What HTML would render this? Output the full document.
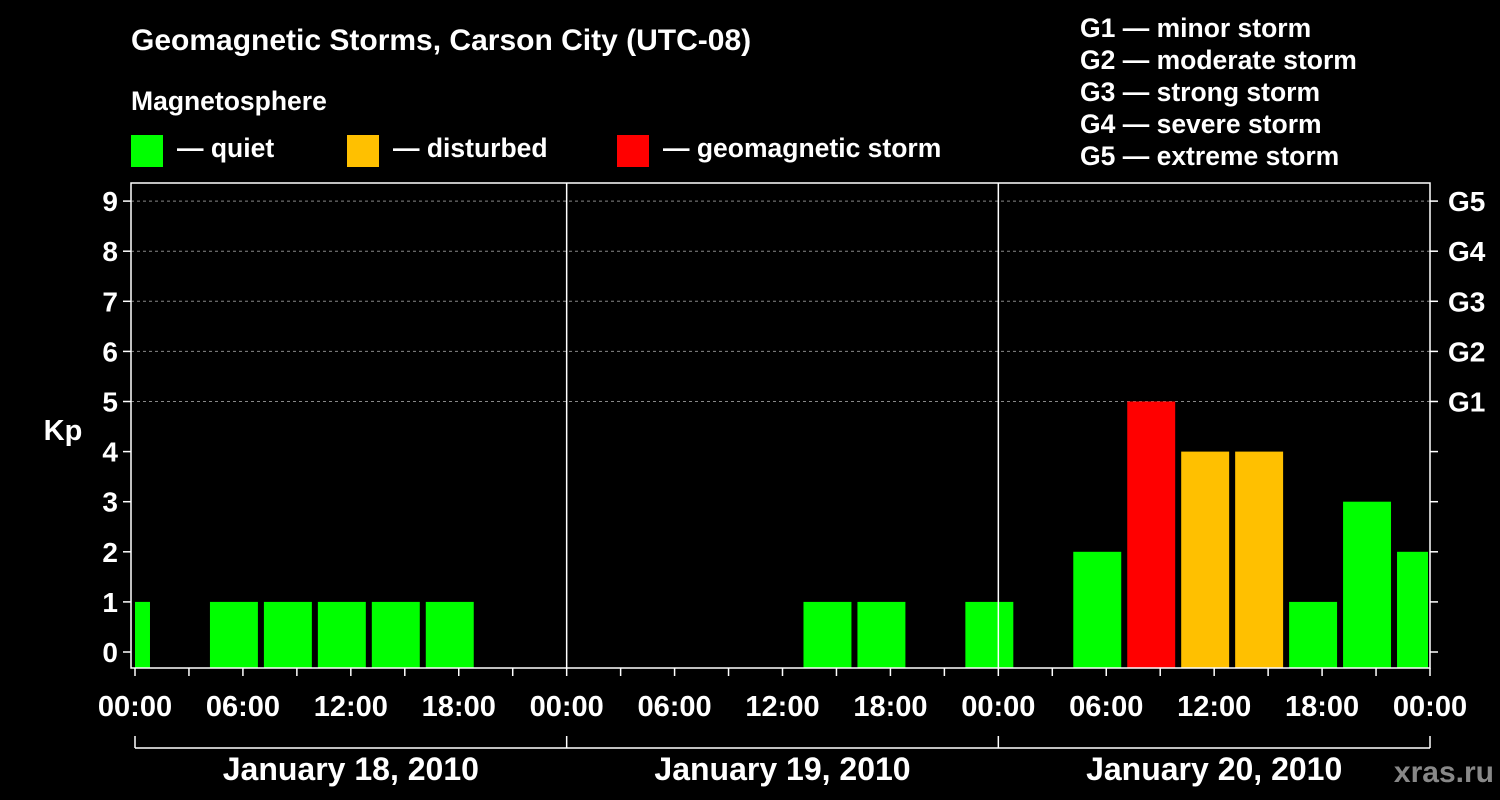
<!DOCTYPE html>
<html><head><meta charset="utf-8"><style>
html,body{margin:0;padding:0;background:#000;}
svg{display:block;font-family:"Liberation Sans",Arial,sans-serif;font-weight:bold;}
</style></head><body>
<svg id="chart" width="1500" height="800" viewBox="0 0 1500 800">
<text x="131" y="50" fill="#fff" font-size="30">Geomagnetic Storms, Carson City (UTC-08)</text>
<text x="131" y="110" fill="#fff" font-size="26.5">Magnetosphere</text>
<g><rect x="131" y="135" width="32" height="32" fill="#00ff00"/><text x="177" y="157" fill="#fff" font-size="26.5">— quiet</text></g>
<g><rect x="347" y="135" width="32" height="32" fill="#ffc000"/><text x="393" y="157" fill="#fff" font-size="26.5">— disturbed</text></g>
<g><rect x="617" y="135" width="32" height="32" fill="#ff0000"/><text x="663" y="157" fill="#fff" font-size="26.5">— geomagnetic storm</text></g>
<g fill="#fff" font-size="26.5">
<text x="1080" y="37">G1 — minor storm</text><text x="1080" y="69">G2 — moderate storm</text><text x="1080" y="101">G3 — strong storm</text><text x="1080" y="133">G4 — severe storm</text><text x="1080" y="165">G5 — extreme storm</text>
</g>
<text x="63" y="440" fill="#fff" font-size="29" text-anchor="middle">Kp</text>
<text x="1494" y="782" fill="#888" font-size="30" text-anchor="end">xras.ru</text>
<g id="grid"></g><g id="bars"></g><g id="axes"></g>
</svg>
<script>
const days = ["January 18, 2010","January 19, 2010","January 20, 2010"];
const yTicks = [0,1,2,3,4,5,6,7,8,9];
const gLabels = ["G1","G2","G3","G4","G5"];
const xTickLabels = ["00:00","06:00","12:00","18:00","00:00","06:00","12:00","18:00","00:00","06:00","12:00","18:00","00:00"];
// interval start hours (local, from Jan 18 00:00), 3-hour intervals
const barStarts = [-2,4,7,10,13,16,37,40,46,52,55,58,61,64,67,70];
const kpValues = [1,1,1,1,1,1,1,1,1,2,5,4,4,1,3,2];

const NS="http://www.w3.org/2000/svg";
const X0=135, X1=1430, PT=183, PB=668, PL=131;
const xs=h=>X0+h*(X1-X0)/72;
const ys=v=>652-v*50.1;
function mk(tag,attrs,parent,txt){const e=document.createElementNS(NS,tag);for(const k in attrs)e.setAttribute(k,attrs[k]);if(txt!==undefined)e.textContent=txt;parent.appendChild(e);return e;}
const grid=document.getElementById('grid'),bars=document.getElementById('bars'),axes=document.getElementById('axes');
yTicks.forEach(v=>{
  if(v>=5){const l=mk('line',{x1:PL,x2:X1,y1:ys(v),y2:ys(v),stroke:'#888','stroke-dasharray':'3,3','stroke-width':1},grid);
  
  }
  const t=mk('text',{x:118,y:ys(v)+10,fill:'#fff','font-size':28,'text-anchor':'end'},axes,String(v));
  
  
  mk('line',{x1:PL-8,x2:PL,y1:ys(v),y2:ys(v),stroke:'#fff','stroke-width':1.5},axes);
  mk('line',{x1:X1,x2:X1+8,y1:ys(v),y2:ys(v),stroke:'#fff','stroke-width':1.5},axes);
  if(v>=5){const g=mk('text',{x:1448,y:ys(v)+10,fill:'#fff','font-size':28},axes,gLabels[v-5]);
  
  }
});
barStarts.forEach((h,i)=>{
  const v=kpValues[i];
  let x0=Math.max(xs(h)+3,X0), x1=Math.min(xs(h+3)-3,X1-2);
  const c=v>=5?'#ff0000':(v>=4?'#ffc000':'#00ff00');
  const r=mk('rect',{x:x0,y:ys(v),width:x1-x0,height:PB-ys(v),fill:c},bars);
  
  
});
mk('rect',{x:PL,y:PT,width:X1-PL,height:PB-PT,fill:'none',stroke:'#fff','stroke-width':1.5},axes);
[1,2].forEach(d=>mk('line',{x1:xs(d*24),x2:xs(d*24),y1:PT,y2:PB,stroke:'#fff','stroke-width':1.5},axes));
for(let h=0;h<=72;h+=3)mk('line',{x1:xs(h),x2:xs(h),y1:PB,y2:PB+8,stroke:'#fff','stroke-width':1.5},axes);
xTickLabels.forEach((s,i)=>{const t=mk('text',{x:xs(i*6),y:716,fill:'#fff','font-size':29,'text-anchor':'middle'},axes,s);
  
  });
mk('line',{x1:X0,x2:X1,y1:748,y2:748,stroke:'#fff','stroke-width':1.5},axes);
[0,1,2,3].forEach(d=>mk('line',{x1:xs(d*24),x2:xs(d*24),y1:736,y2:748,stroke:'#fff','stroke-width':1.5},axes));
days.forEach((s,i)=>{const t=mk('text',{x:xs(i*24+12),y:780,fill:'#fff','font-size':32,'text-anchor':'middle'},axes,s);
  
  });
</script>
</body></html>
